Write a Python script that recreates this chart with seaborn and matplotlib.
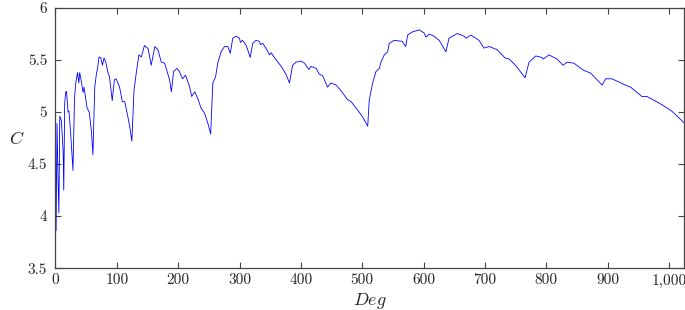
import matplotlib
matplotlib.use("Agg")
import matplotlib.pyplot as plt
import seaborn as sns
from matplotlib.ticker import FuncFormatter

# values
deg = [0, 1, 2.5, 4, 5.5, 7, 9.5, 11, 12.5, 13.5, 15, 16.5, 18, 20.5, 22, 24.5, 28.5,
       31, 33, 36, 38, 39.5, 42, 45, 46.5, 49, 51.5, 55, 58.5, 61, 64, 67, 68.5, 71,
       74, 76.5, 79, 82, 85.5, 88, 92.5, 96, 99, 104.5, 109, 113, 118, 121, 124.5,
       128, 132, 136, 140, 145, 151, 156, 162, 167, 172.5, 178, 186, 189, 192.5, 198,
       202, 207, 212, 218.5, 222, 227, 232, 237.5, 243, 248.5, 253,
       256.5, 261, 264.5, 270, 275.5, 281, 285, 289, 294.5, 300, 301.5, 305, 311,
       317.5, 321.5, 327, 332.5, 334, 338, 343.5, 349, 351.5, 360, 368, 376, 381.5,
       386.5, 392, 400.5, 406, 413, 416.5, 425, 430, 435.5, 443.5, 449, 457.5, 465.5,
       476, 482, 492.5, 500.5, 509,
       511.5, 517, 522.5, 528, 530.5, 536, 541.5, 544, 552, 565, 571, 574, 581.5,
       593, 601, 604, 609, 617, 625.5, 636.5, 641.5, 655, 666, 669.5, 677, 690.5,
       698.5, 707, 720, 733, 739.5, 750, 765.5, 772, 783, 793, 795, 804.5, 817.5,
       827.5, 834, 845, 861.5, 872.5, 891, 897, 907, 918.5, 925, 937.5, 954, 956,
       964, 980, 991.5, 1004.5, 1019, 1024]
c = [4.67, 3.86, 4.89, 4.40, 4.03, 4.96, 4.92, 4.78, 4.62, 4.25, 5.08, 5.19, 5.20, 5.00, 5.01, 4.82, 4.44,
     5.13, 5.28, 5.38, 5.28, 5.38, 5.30, 5.19, 5.24, 5.14, 5.04, 5.00, 4.82, 4.59, 5.24, 5.38, 5.415, 5.53,
     5.52, 5.45, 5.52, 5.48, 5.38, 5.34, 5.11, 5.31, 5.32, 5.24, 5.10, 5.10, 4.955, 4.86, 4.72,
     5.21, 5.39, 5.55, 5.53, 5.64, 5.61, 5.45, 5.63, 5.60, 5.48, 5.47, 5.31, 5.195, 5.39, 5.42,
     5.39, 5.32, 5.355, 5.245, 5.15, 5.195, 5.13, 5.035, 4.99, 4.89, 4.79,
     5.28, 5.34, 5.47, 5.58, 5.63, 5.63, 5.565, 5.71, 5.73, 5.71, 5.67, 5.69, 5.64,
     5.525, 5.66, 5.69, 5.68, 5.65, 5.66, 5.61, 5.55, 5.57, 5.50, 5.44, 5.36, 5.28,
     5.45, 5.48, 5.49, 5.47, 5.41, 5.44, 5.42, 5.365, 5.35, 5.24, 5.28, 5.26, 5.205,
     5.12, 5.10, 5.02, 4.955, 4.865,
     5.115, 5.28, 5.39, 5.42, 5.48, 5.55, 5.58, 5.66, 5.69, 5.68, 5.63, 5.74, 5.77,
     5.79, 5.76, 5.72, 5.75, 5.73, 5.69, 5.58, 5.71, 5.755, 5.73, 5.71, 5.74, 5.69,
     5.615, 5.63, 5.60, 5.52, 5.51, 5.45, 5.33, 5.48, 5.54, 5.525, 5.51, 5.55, 5.51,
     5.45, 5.48, 5.47, 5.40, 5.375, 5.26, 5.32, 5.32, 5.29, 5.27, 5.24, 5.16, 5.15,
     5.15, 5.10, 5.06, 5.01, 4.93, 4.90]

xticks = [0, 100, 200, 300, 400, 500, 600, 700, 800, 900, 1000]
yticks = [3.5, 4, 4.5, 5, 5.5, 6]

sns.set_style("ticks")
plt.rcParams["font.family"] = ["cmr10", "DejaVu Serif"]
plt.rcParams["mathtext.fontset"] = "cm"
plt.rcParams["axes.formatter.use_mathtext"] = True
plt.rcParams["axes.unicode_minus"] = False

fig = plt.figure(figsize=(6.85, 3.1), dpi=100)
ax = fig.add_axes([0.081, 0.135, 0.917, 0.839])

sns.lineplot(x=deg, y=c, ax=ax, color="blue", lw=0.6, estimator=None, sort=False)

ax.set_xlim(0, 1024)
ax.set_ylim(3.5, 6)
ax.set_xticks(xticks)
ax.set_yticks(yticks)
ax.xaxis.set_major_formatter(FuncFormatter(lambda v, p: f"{v:,.0f}"))
ax.yaxis.set_major_formatter(FuncFormatter(lambda v, p: f"{v:g}"))
ax.tick_params(direction="in", length=4.5, width=0.8, color="#444444",
               top=True, right=True, labelsize=11)
ax.tick_params(axis="y", pad=6)
ax.tick_params(axis="x", pad=4)
for s in ax.spines.values():
    s.set_color("#444444")
    s.set_linewidth(0.9)

ax.set_xlabel(r"$Deg$", fontsize=13, labelpad=2)
ax.set_ylabel(r"$C$", fontsize=13, rotation=0, labelpad=8, va="center")

fig.savefig("out.png", dpi=100)
